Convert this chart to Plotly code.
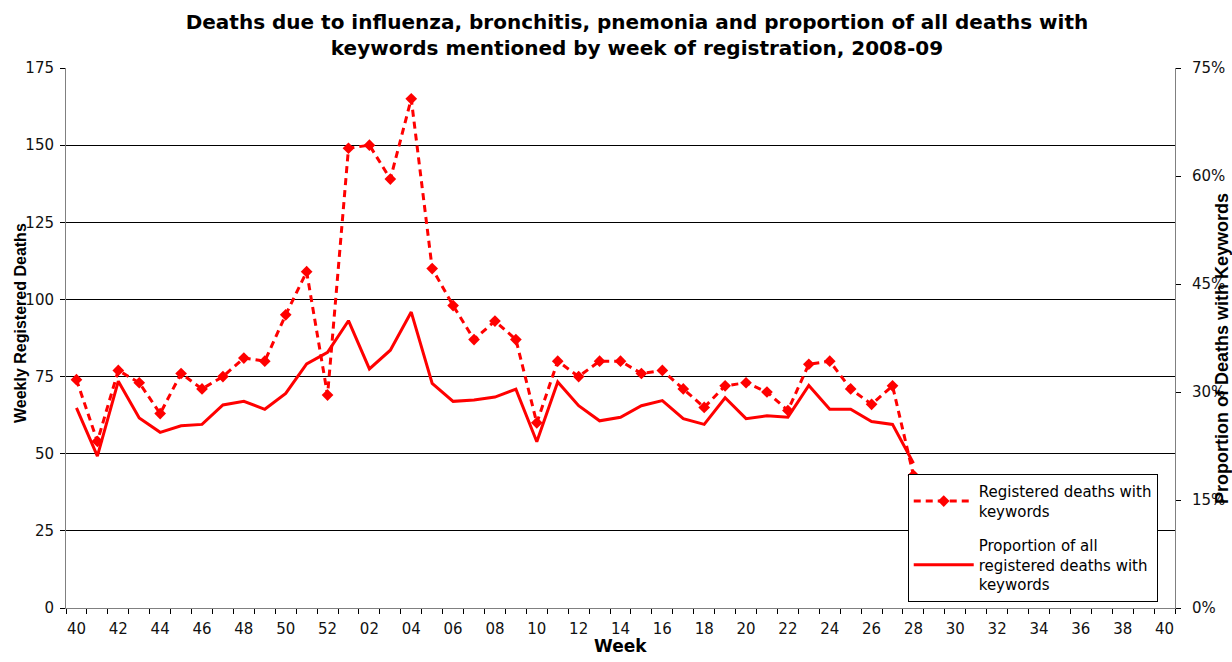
import plotly.graph_objects as go

# ---- data ----
week_labels = [f"{w:02d}" for w in list(range(40, 53)) + list(range(1, 41))]
data_weeks = [f"{w:02d}" for w in list(range(40, 53)) + list(range(1, 29))]
registered_deaths = [74, 54, 77, 73, 63, 76, 71, 75, 81, 80, 95, 109, 69,
                     149, 150, 139, 165, 110, 98, 87, 93, 87, 60, 80, 75, 80, 80,
                     76, 77, 71, 65, 72, 73, 70, 64, 79, 80, 71, 66, 72, 43]
proportion = [0.278, 0.211, 0.315, 0.264, 0.244, 0.253, 0.255, 0.282, 0.287, 0.276,
              0.298, 0.339, 0.355,
              0.399, 0.332, 0.358, 0.411, 0.312, 0.287, 0.289, 0.293, 0.304, 0.231,
              0.314, 0.281, 0.260, 0.265, 0.281, 0.288, 0.263, 0.255, 0.292, 0.263,
              0.267, 0.265, 0.309, 0.276, 0.276, 0.259, 0.255, 0.201]

x_pos = list(range(len(data_weeks)))
all_pos = list(range(len(week_labels)))

RED = "#FF0000"
GRAY = "#808080"
FONT = "DejaVu Sans"

fig = go.Figure()
fig.add_trace(go.Scatter(
    x=x_pos, y=registered_deaths, name="Registered deaths with<br>keywords",
    mode="lines+markers", line=dict(color=RED, width=3, dash="7px,5px"),
    marker=dict(symbol="diamond", size=9, color=RED),
    legendgroup="a", yaxis="y"))
fig.add_trace(go.Scatter(
    x=x_pos, y=proportion, name="Proportion of all<br>registered deaths with<br>keywords",
    mode="lines", line=dict(color=RED, width=3),
    legendgroup="b", yaxis="y2"))

fig.update_layout(
    width=1232, height=662,
    margin=dict(l=66, r=57, t=68, b=54, autoexpand=False),
    paper_bgcolor="white", plot_bgcolor="white",
    font=dict(family=FONT, size=15, color="#111"),
    title=dict(text="<b>Deaths due to influenza, bronchitis, pnemonia and proportion of all deaths with<br>keywords mentioned by week of registration, 2008-09</b>",
               x=0.517, xref="container", xanchor="center",
               y=1 - 29 / 662, yref="container", yanchor="top",
               font=dict(family=FONT, size=20, color="black")),
    xaxis=dict(range=[-0.5, 52.5], tickmode="array", tickvals=all_pos[::2],
               ticktext=week_labels[::2], ticks="", showgrid=False, zeroline=False,
               showline=True, linecolor=GRAY, linewidth=1,
               tickfont=dict(family=FONT, size=15, color="#111"),
               ticklabelstandoff=7,
               minor=dict(tickmode="array", tickvals=[p - 0.5 for p in all_pos] + [52.5],
                          ticks="outside", ticklen=5, tickcolor="black", showgrid=False),
               automargin=False),
    yaxis=dict(range=[0, 175], tickmode="linear", tick0=0, dtick=25,
               showgrid=True, gridcolor="black", gridwidth=1, zeroline=False,
               showline=True, linecolor=GRAY, linewidth=1,
               ticks="outside", ticklen=5, tickcolor="black",
               tickfont=dict(family=FONT, size=15, color="#111"),
               ticklabelstandoff=3,
               automargin=False),
    yaxis2=dict(range=[0, 0.75], overlaying="y", side="right", tickmode="linear",
                tick0=0, dtick=0.15, tickformat=".0%", showgrid=False, zeroline=False,
                showline=True, linecolor=GRAY, linewidth=1,
                ticks="outside", ticklen=5, tickcolor="black",
                tickfont=dict(family=FONT, size=15, color="#111"),
                ticklabelstandoff=8,
                automargin=False),
    legend=dict(x=0.759, y=0.248, xanchor="left", yanchor="top",
                bgcolor="white", bordercolor="black", borderwidth=1,
                font=dict(family=FONT, size=15, color="black"),
                itemwidth=60, tracegroupgap=12, traceorder="grouped"),
    showlegend=True,
    annotations=[
        dict(text="<b>Weekly Registered Deaths</b>", textangle=-90,
             x=(20 - 66) / 1109, y=(608 - 323) / 540, xref="paper", yref="paper",
             xanchor="center", yanchor="middle", showarrow=False,
             font=dict(family="Liberation Sans", size=16, color="black")),
        dict(text="<b>Proportion of Deaths with Keywords</b>", textangle=-90,
             x=(1222 - 66) / 1109, y=(608 - 349) / 540, xref="paper", yref="paper",
             xanchor="center", yanchor="middle", showarrow=False,
             font=dict(family="Liberation Sans", size=18, color="black")),
        dict(text="<b>Week</b>", x=(620 - 66) / 1109, y=(608 - 646) / 540,
             xref="paper", yref="paper", xanchor="center", yanchor="middle",
             showarrow=False, font=dict(family=FONT, size=17, color="black")),
    ],
)

fig.write_html("out.html", config={"displayModeBar": False},
               post_script="document.body.style.margin='0';document.body.style.padding='0';")
